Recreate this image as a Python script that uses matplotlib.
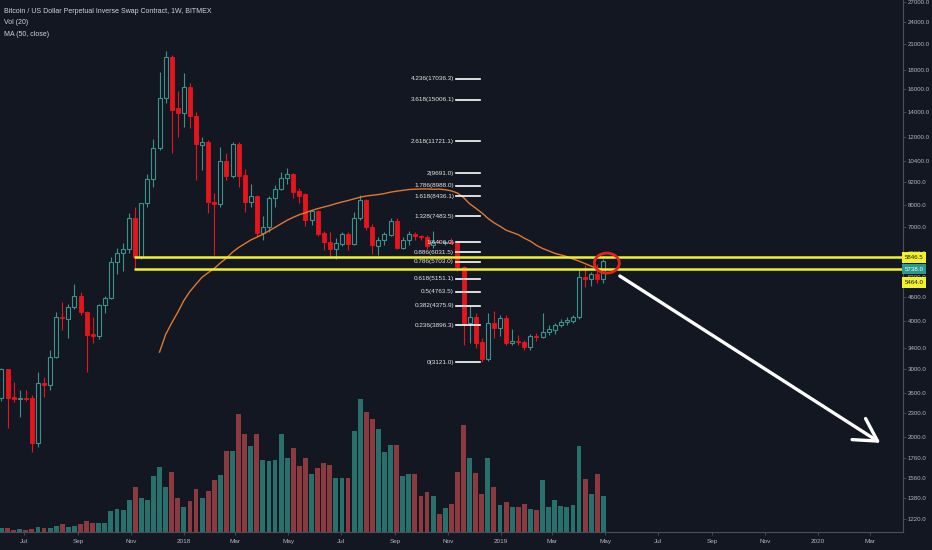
import matplotlib
matplotlib.use("Agg")
import matplotlib.pyplot as plt
import matplotlib.dates as mdates
import matplotlib.transforms as mtransforms
from matplotlib.patches import Ellipse
from matplotlib.ticker import FixedLocator, NullLocator, FuncFormatter
import numpy as np
import pandas as pd

### DATA  (weekly candles, week of 2017-06-05 .. 2019-04-29)
first_week = "2017-06-05"
opens = [2520, 2990, 2540, 2500, 2525, 2518, 1925, 2760, 2725, 3220,
         4100, 4043, 4346, 4641, 4217, 3700, 3651, 4398, 4586, 5688,
         6002, 6147, 7401, 5861, 8098, 9350, 11250, 15185, 19410, 14300,
         13880, 16220, 13630, 11470, 11660, 8150, 8050, 10415, 9520, 11525,
         9580, 8147, 8445, 6765, 7013, 8343, 8810, 9405, 9630, 8705,
         8550, 7313, 7718, 6765, 6410, 6147, 6334, 6725, 6334, 7401,
         8245, 7013, 6258, 6486, 6685, 7270, 6184, 6486, 6725, 6640,
         6600, 6290, 6410, 6390, 6400, 6372, 5521, 3948, 4092, 3522,
         3182, 3948, 3832, 4068, 3501, 3540, 3520, 3418, 3651, 3629,
         3741, 3790, 3900, 3972, 4000, 4092, 5201, 5139, 5300, 5150]
highs = [3010, 3000, 2770, 2640, 2640, 2560, 2944, 2850, 3358, 4217,
         4477, 4420, 4980, 4750, 4250, 4080, 4420, 4640, 5850, 6184,
         6370, 7626, 7903, 8120, 9630, 11850, 17750, 20150, 19600, 15800,
         17600, 16600, 14000, 12000, 11800, 8600, 11300, 10900, 11700, 11650,
         9950, 9100, 8500, 7500, 8450, 9000, 9750, 9960, 9700, 8880,
         8580, 7760, 7780, 6850, 6820, 6550, 6800, 6800, 7650, 8500,
         8300, 7150, 6600, 6800, 7400, 7400, 6600, 6850, 6800, 6700,
         6700, 6850, 6470, 6460, 6550, 6400, 5550, 4398, 4200, 3600,
         4192, 4230, 4150, 4150, 3800, 3680, 3560, 3700, 3720, 4192,
         3900, 3950, 4050, 4080, 4150, 5455, 5587, 5350, 5620, 5792]
lows = [2480, 2105, 2460, 2250, 2480, 1823, 1880, 2530, 2650, 3200,
        3790, 3600, 4300, 4140, 2944, 3500, 3580, 4200, 4550, 5300,
        5400, 6000, 5488, 5800, 7900, 8900, 11100, 14700, 10920, 12020,
        12800, 12700, 9295, 9865, 7626, 5931, 7900, 9300, 9400, 8915,
        7672, 7900, 6600, 6486, 6800, 7900, 8750, 9100, 8350, 8100,
        7050, 7080, 6650, 6100, 5861, 5800, 6250, 6100, 6300, 7300,
        6900, 5950, 5931, 6300, 6650, 6150, 6150, 6300, 6500, 6500,
        6150, 6200, 6360, 6280, 6320, 5400, 3460, 3500, 3400, 3121,
        3150, 3600, 3650, 3450, 3450, 3450, 3350, 3350, 3550, 3600,
        3680, 3700, 3850, 3900, 3950, 4050, 4898, 4920, 5017, 5017]
closes = [2990, 2520, 2500, 2520, 2500, 1925, 2755, 2725, 3220, 4092,
          4068, 4346, 4641, 4217, 3673, 3651, 4398, 4586, 5688, 6002,
          6147, 7401, 5861, 8098, 9350, 11250, 15185, 19410, 14130, 13880,
          16220, 13630, 11525, 11660, 8150, 8050, 10415, 9520, 11525, 9520,
          8147, 8445, 6765, 7013, 8343, 8810, 9405, 9630, 8652, 8445,
          7313, 7718, 6725, 6410, 6147, 6372, 6725, 6334, 7401, 8245,
          7013, 6296, 6486, 6725, 7270, 6184, 6486, 6725, 6640, 6600,
          6260, 6410, 6400, 6400, 6380, 5521, 3948, 4092, 3501, 3182,
          3948, 3832, 4068, 3501, 3540, 3520, 3418, 3651, 3629, 3741,
          3809, 3901, 3972, 4020, 4100, 5201, 5139, 5296, 5150, 5738]
volume = [0.9, 1.0, 0.5, 0.7, 0.5, 0.8, 1.3, 1.0, 1.0, 1.5,
          1.9, 1.25, 1.5, 2.0, 2.8, 2.25, 2.25, 2.25, 5.3, 5.7,
          5.5, 8.0, 11.2, 8.4, 8.1, 14.0, 16.3, 11.2, 14.9, 8.6,
          6.3, 7.8, 10.7, 8.6, 10.3, 13.0, 14.3, 20.1, 20.3, 29.5,
          24.5, 21.5, 24.4, 18.0, 17.8, 18.0, 24.4, 18.5, 20.9, 16.5,
          18.5, 14.6, 16.0, 17.2, 16.8, 13.5, 13.6, 13.4, 25.1, 33.2,
          29.9, 28.3, 25.6, 19.9, 21.8, 21.8, 14.0, 14.4, 14.4, 8.9,
          9.9, 9.0, 4.6, 6.1, 7.0, 15.1, 26.8, 18.5, 14.8, 9.4,
          18.5, 11.3, 6.8, 7.4, 6.3, 6.2, 6.9, 5.8, 5.5, 13.0,
          6.3, 7.9, 6.5, 6.3, 6.8, 21.5, 13.3, 9.6, 14.6, 9.0]
# closes before the visible range (weeks of 2016-12-26 .. 2017-05-29), only feed the MA
early_closes = [1000, 910, 820, 920, 920, 1020, 1000, 1050, 1190, 1270,
                1230, 1020, 970, 1100, 1200, 1190, 1250, 1350, 1560, 1750,
                2050, 2200, 2500]

fib_low = 3121.0
fib_high = 6406.0
fib_levels = [0, 0.236, 0.382, 0.5, 0.618, 0.786, 0.886, 1, 1.328, 1.618, 1.786, 2, 2.618, 3.618, 4.236]
zone_top = 5846.5
zone_bottom = 5464.0
last_price = 5738.0
price_ticks = [1220, 1380, 1560, 1760, 2000, 2300, 2600, 3000, 3400, 4000, 4600, 5200,
               6000, 7000, 8000, 9200, 10400, 12000, 14000, 16000, 18000, 21000, 24000, 27000]
month_ticks = ["2017-07-01", "2017-09-01", "2017-11-01", "2018-01-01", "2018-03-01", "2018-05-01",
               "2018-07-01", "2018-09-01", "2018-11-01", "2019-01-01", "2019-03-01", "2019-05-01",
               "2019-07-01", "2019-09-01", "2019-11-01", "2020-01-01", "2020-03-01"]
arrow_start = ("2019-05-18", 5230)
arrow_end = ("2020-03-13", 1925)
circle_at = ("2019-05-03", 5650)

### STYLE
bg = "#131722"
teal = "#3b938d"
red = "#e8141c"
vol_up = "#27706b"
vol_dn = "#8b3a3f"
txt = "#b2b5be"
axis_col = "#4c4f5a"
yellow = "#f2f22c"
plt.rcParams["font.family"] = ["Liberation Sans", "DejaVu Sans"]
small = 4.4

weeks = pd.date_range(first_week, periods=len(closes), freq="7D")
x = mdates.date2num(weeks)
o, h, l, c = (np.array(a, dtype=float) for a in (opens, highs, lows, closes))
up = c >= o

all_closes = pd.Series(early_closes + closes, dtype=float)
ma = all_closes.rolling(50).mean().values[len(early_closes):]

fig = plt.figure(figsize=(9.32, 5.5), dpi=100, facecolor=bg)
rect = [0, 18 / 550, 903 / 932, 532 / 550]
ax_v = fig.add_axes(rect, facecolor=bg)
ax = fig.add_axes(rect, sharex=ax_v)
ax.patch.set_visible(False)

# volume overlay
ax_v.bar(x, volume, width=5.6, color=np.where(up, vol_up, vol_dn), linewidth=0)
ax_v.set_ylim(0, max(volume) * 532 / 133)
ax_v.axis("off")

# candles
ax.vlines(x[up], l[up], h[up], color=teal, lw=0.8, zorder=2)
ax.vlines(x[~up], l[~up], h[~up], color=red, lw=0.8, zorder=2)
ax.bar(x[up], (c - o)[up], bottom=o[up], width=4.6, facecolor=bg, edgecolor=teal, lw=0.8, zorder=3)
ax.bar(x[~up], (o - c)[~up], bottom=c[~up], width=4.6, facecolor=red, edgecolor=red, lw=0.6, zorder=3)

# MA(50, close)
ax.plot(x, ma, color="#e0782f", lw=1.0, zorder=4)

ax.set_yscale("log")
ax.set_ylim(1129, 27310)
x_left = x[0] - 1.7
x_right = x[0] + 1038
ax.set_xlim(x_left, x_right)

# support zone
for lvl in (zone_top, zone_bottom):
    ax.plot([x[22] - 1.5, x_right], [lvl, lvl], color=yellow, lw=1.8, zorder=5, solid_capstyle="butt")

# fib levels
fx0, fx1 = x[75] - 1.5, x[79] - 1.5
for lvl in fib_levels:
    p = fib_low + lvl * (fib_high - fib_low)
    ax.plot([fx0, fx1], [p, p], color="white", lw=1.2, zorder=5)
    ax.annotate(f"{lvl:g}({p:.1f})", xy=(fx0, p), xytext=(-1.5, 0), textcoords="offset points",
                ha="right", va="center", fontsize=small + 0.2, color="#e6e6e6", zorder=6)

# red circle round last candle
cx = mdates.date2num(pd.Timestamp(circle_at[0]))
trans = fig.dpi_scale_trans + mtransforms.ScaledTranslation(cx, circle_at[1], ax.transData)
ax.add_patch(Ellipse((0, 0), 0.25, 0.20, transform=trans, fill=False, ec="#e3241e", lw=2, zorder=7))

# arrow
ax.annotate("", xy=(mdates.date2num(pd.Timestamp(arrow_end[0])), arrow_end[1]),
            xytext=(mdates.date2num(pd.Timestamp(arrow_start[0])), arrow_start[1]),
            arrowprops=dict(arrowstyle="->,head_length=0.8,head_width=0.45", color="white",
                            lw=2.4, mutation_scale=20, shrinkA=0, shrinkB=0), zorder=7)

# axes
ax.yaxis.tick_right()
ax.yaxis.set_major_locator(FixedLocator(price_ticks))
ax.yaxis.set_minor_locator(NullLocator())
ax.yaxis.set_major_formatter(FuncFormatter(lambda v, p: f"{v:.1f}"))
ax.xaxis.set_major_locator(FixedLocator(mdates.date2num(pd.to_datetime(month_ticks))))
ax.xaxis.set_minor_locator(NullLocator())
ax.xaxis.set_major_formatter(FuncFormatter(
    lambda v, p: mdates.num2date(v).strftime("%Y" if mdates.num2date(v).month == 1 else "%b")))
ax.tick_params(axis="y", which="both", right=True, left=False, length=2.2, width=0.6,
               color=axis_col, labelcolor=txt, labelsize=small, pad=1.2)
ax.tick_params(axis="x", length=2.5, width=0.6, color=axis_col, labelcolor=txt, labelsize=small + 0.2, pad=2.5)
for s in ("top", "left"):
    ax.spines[s].set_visible(False)
for s in ("right", "bottom"):
    ax.spines[s].set_color(axis_col)
    ax.spines[s].set_linewidth(0.8)

# price labels on the scale
for price, dy, fc, tc in ((zone_top, 0, yellow, "#1a1a1a"), (last_price, -6.2, "#2a998f", "white"),
                          (zone_bottom, -9.8, yellow, "#1a1a1a")):
    ax.annotate(f"{price:.1f}", xy=(1, price), xycoords=("axes fraction", "data"),
                xytext=(1.2, dy), textcoords="offset points", ha="left", va="center",
                fontsize=small, color=tc, annotation_clip=False, zorder=10,
                bbox=dict(boxstyle="square,pad=0.45", fc=fc, ec="none"))

# legend
fig.text(4 / 932, 1 - 11.5 / 550, "Bitcoin / US Dollar Perpetual Inverse Swap Contract, 1W, BITMEX",
         color="#d1d4dc", fontsize=5.0, va="center")
fig.text(4 / 932, 1 - 23 / 550, "Vol (20)", color="#d1d4dc", fontsize=5.0, va="center")
fig.text(4 / 932, 1 - 34.5 / 550, "MA (50, close)", color="#d1d4dc", fontsize=5.0, va="center")

fig.savefig("out.png", dpi=100, facecolor=bg)
